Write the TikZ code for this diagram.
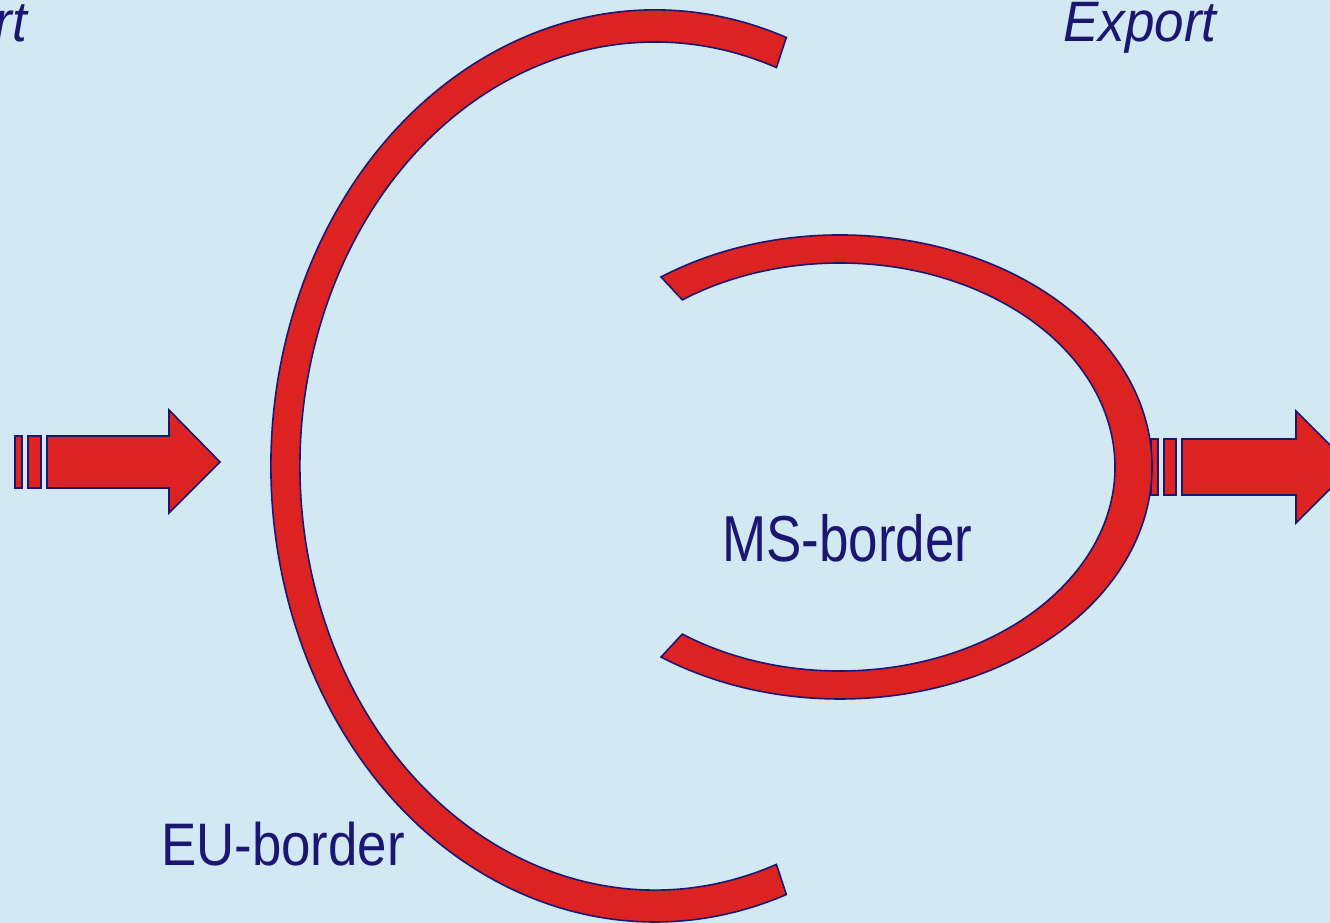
\documentclass[tikz,border=0pt]{standalone}
\usepackage{fontspec}
\setmainfont{Liberation Sans}
\definecolor{bgblue}{RGB}{210,232,243}
\definecolor{bordred}{RGB}{221,35,34}
\definecolor{navy}{RGB}{28,22,115}
\begin{document}
\begin{tikzpicture}[x=1pt,y=1pt,
    border/.style={draw=navy,fill=bordred,line width=1.6pt,line join=miter},
    lbl/.style={text=navy,inner sep=0pt}]
  \clip (0,0) rectangle (1330,923);
  \fill[bgblue] (0,0) rectangle (1330,923);
  \coordinate (eu) at (655,457);
  \coordinate (ms) at (840,456);
  % arrows
  \draw[border] (15,435) rectangle (22,487);
  \draw[border] (28,435) rectangle (41,487);
  \draw[border] (47,487) -- (169,487) -- (169,513) -- (220,461)
    -- (169,410) -- (169,435) -- (47,435) -- cycle;
  \draw[border] (1151,428) rectangle (1158,484);
  \draw[border] (1164,428) rectangle (1176,484);
  \draw[border] (1182,484) -- (1296,484) -- (1296,512) -- (1352,456)
    -- (1296,400) -- (1296,428) -- (1182,428) -- cycle;
  % borders
  \draw[border] ([shift={(70:384 and 456)}]eu)
    arc[start angle=70,end angle=290,x radius=384,y radius=456]
    -- ([shift={(290:355 and 424)}]eu)
    arc[start angle=290,end angle=70,x radius=355,y radius=424] -- cycle;
  \draw[border] ([shift={(125:312 and 232)}]ms)
    arc[start angle=125,end angle=-125,x radius=312,y radius=232]
    -- ([shift={(-125:275 and 204)}]ms)
    arc[start angle=-125,end angle=125,x radius=275,y radius=204] -- cycle;
  % labels
  \node[lbl,anchor=base west,xscale=0.88,font=\fontsize{60}{60}\selectfont]
    (eulabel) at (161,57) {EU-border};
  \node[lbl,anchor=base west,xscale=0.815,font=\fontsize{65}{65}\selectfont]
    (mslabel) at (722,361) {MS-border};
  \node[lbl,anchor=base west,xscale=0.93,font=\fontsize{57}{57}\selectfont\itshape]
    (export) at (1063,881) {Export};
  \node[lbl,anchor=base east,xscale=0.93,font=\fontsize{57}{57}\selectfont\itshape]
    (import) at (27,881) {rt};
\end{tikzpicture}
\end{document}
